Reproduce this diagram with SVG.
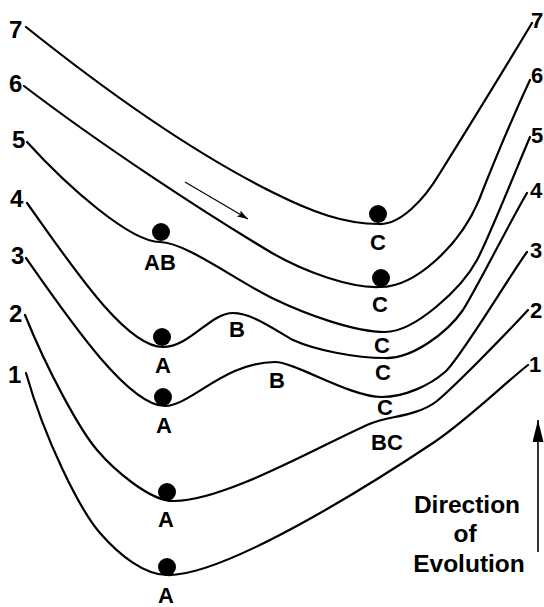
<svg xmlns="http://www.w3.org/2000/svg" width="544" height="607" viewBox="0 0 544 607">
<style>
.curve{fill:none;stroke:#000;stroke-width:2.2;stroke-linecap:round;stroke-linejoin:round}
.num{font-family:"Liberation Sans",Arial,sans-serif;font-weight:bold;font-size:24px;fill:#000}
.numr{font-family:"Liberation Sans",Arial,sans-serif;font-weight:bold;font-size:22px;fill:#000}
.lbl{font-family:"Liberation Sans",Arial,sans-serif;font-weight:bold;font-size:22px;fill:#000;text-anchor:middle}
.ttl{font-family:"Liberation Sans",Arial,sans-serif;font-weight:bold;font-size:24.5px;fill:#000;text-anchor:middle}
.ball{fill:#000}
.arr{fill:none;stroke:#000}
</style>
<defs>
<marker id="headSmall" markerUnits="userSpaceOnUse" markerWidth="11" markerHeight="7" refX="11" refY="3.5" orient="auto">
<path d="M0,0 L11,3.5 L0,7 L2.5,3.5 z" fill="#000"/>
</marker>
<marker id="headBig" markerUnits="userSpaceOnUse" markerWidth="22" markerHeight="11" refX="22" refY="5.5" orient="auto">
<path d="M0,0 L22,5.5 L0,11 z" fill="#000"/>
</marker>
</defs>
<rect width="544" height="607" fill="#fff"/>
<g id="curves">
<path id="curve7" class="curve" d="M26,27 C106,91 192,152 272,192 C312,212 344,224 379,224 C400,225 424,200 440,173 C465,133 505,68 532,23"/>
<path id="curve6" class="curve" d="M24,86 C100,144 200,210 272,253 C305,272 350,288 379,287 C415,288 460,245 479,200 C490,172 515,112 530,80"/>
<path id="curve5" class="curve" d="M27,142 C67,186 130,242 160,242 C185,242 237,281 272,298 C307,315 355,332 385,332 C415,332 462,288 477,260 C488,240 520,160 530,137"/>
<path id="curve4" class="curve" d="M27,203 C70,263 125,347 163,347 C190,347 210,313 233,313 C252,313 275,330 293,340 C315,350 355,358 385,358 C412,359 447,333 463,310 C478,286 512,218 527,193"/>
<path id="curve3" class="curve" d="M26,258 C68,318 128,406 165,406 C190,406 225,362 275,362 C295,362 350,397 382,397 C405,397 430,385 445,372 C460,359 512,272 527,252"/>
<path id="curve2" class="curve" d="M25,315 C48,372 80,430 97,450 C114,470 150,501 173,501 C225,502 330,440 372,423 C390,416 418,416 437,401 C455,386 505,335 528,310"/>
<path id="curve1" class="curve" d="M26,373 C45,440 80,510 100,533 C120,556 145,575 167,575 C230,577 400,465 433,443 C466,421 505,383 528,365"/>
</g>
<g id="balls">
<circle class="ball" cx="378" cy="214" r="9"/>
<circle class="ball" cx="381" cy="278" r="9"/>
<circle class="ball" cx="161" cy="232" r="9"/>
<circle class="ball" cx="162" cy="337" r="9"/>
<circle class="ball" cx="163" cy="397" r="9"/>
<circle class="ball" cx="167" cy="492" r="9"/>
<circle class="ball" cx="167" cy="567" r="9"/>
</g>
<g id="numbers-left">
<text class="num" x="9" y="38">7</text>
<text class="num" x="9" y="92">6</text>
<text class="num" x="12" y="148">5</text>
<text class="num" x="10" y="207">4</text>
<text class="num" x="11" y="264">3</text>
<text class="num" x="9" y="322">2</text>
<text class="num" x="8" y="383">1</text>
</g>
<g id="numbers-right">
<text class="numr" x="531" y="28">7</text>
<text class="numr" x="531" y="83">6</text>
<text class="numr" x="531" y="143">5</text>
<text class="numr" x="530" y="198">4</text>
<text class="numr" x="530" y="258">3</text>
<text class="numr" x="530" y="318">2</text>
<text class="numr" x="529" y="372">1</text>
</g>
<g id="labels">
<text class="lbl" x="378" y="250">C</text>
<text class="lbl" x="380" y="312">C</text>
<text class="lbl" x="382" y="353">C</text>
<text class="lbl" x="383" y="380">C</text>
<text class="lbl" x="385" y="415">C</text>
<text class="lbl" x="387" y="450">BC</text>
<text class="lbl" x="160" y="270">AB</text>
<text class="lbl" x="163" y="373">A</text>
<text class="lbl" x="164" y="433">A</text>
<text class="lbl" x="166" y="527">A</text>
<text class="lbl" x="166" y="603">A</text>
<text class="lbl" x="237" y="337">B</text>
<text class="lbl" x="277" y="388">B</text>
</g>
<g id="connectors">
<line class="arr" x1="185" y1="182" x2="248" y2="219" stroke-width="1.2" marker-end="url(#headSmall)"/>
<line class="arr" x1="538" y1="552" x2="538" y2="420" stroke-width="1.6" marker-end="url(#headBig)"/>
</g>
<g id="legend">
<text class="ttl" x="467" y="513">Direction</text>
<text class="ttl" x="465" y="542">of</text>
<text class="ttl" x="469" y="572">Evolution</text>
</g>
</svg>
